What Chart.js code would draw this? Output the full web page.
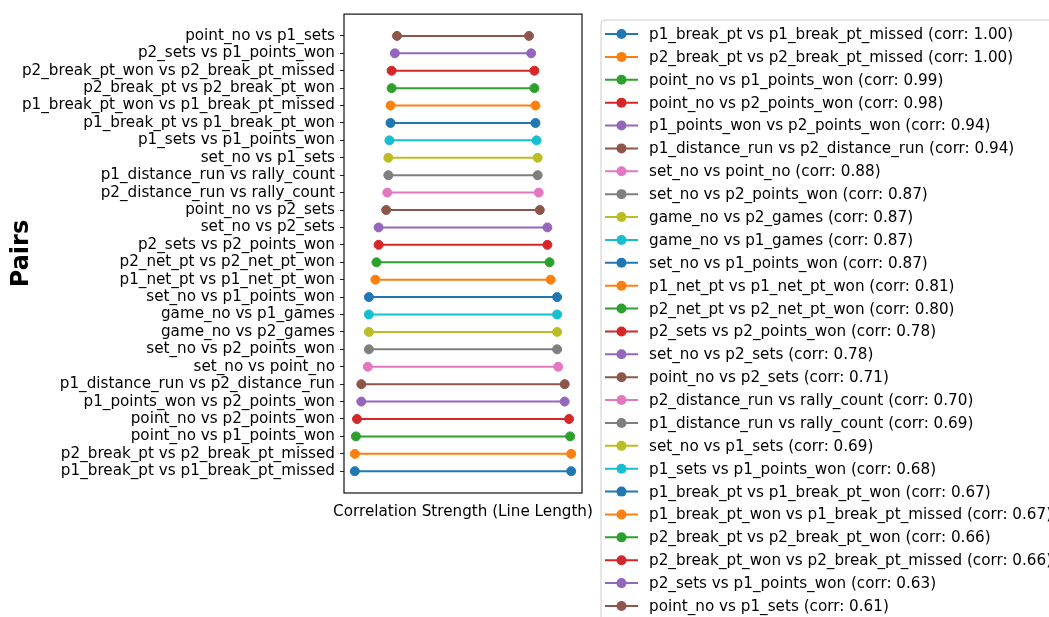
<!DOCTYPE html>
<html lang="en">
  <head>
    <meta charset="UTF-8" />
    <title>Correlation pairs</title>
    <script src="https://cdn.jsdelivr.net/npm/chart.js"></script>
    <style>
      body { margin: 0; background: #fff; }
      canvas { display: block; }
    </style>
  </head>
  <body>
    <canvas id="pairsChart" width="1049" height="617"></canvas>
    <script>
      // pairs sorted by correlation, strongest first (index 0 = bottom row)
      const pairs = [
        "p1_break_pt vs p1_break_pt_missed",
        "p2_break_pt vs p2_break_pt_missed",
        "point_no vs p1_points_won",
        "point_no vs p2_points_won",
        "p1_points_won vs p2_points_won",
        "p1_distance_run vs p2_distance_run",
        "set_no vs point_no",
        "set_no vs p2_points_won",
        "game_no vs p2_games",
        "game_no vs p1_games",
        "set_no vs p1_points_won",
        "p1_net_pt vs p1_net_pt_won",
        "p2_net_pt vs p2_net_pt_won",
        "p2_sets vs p2_points_won",
        "set_no vs p2_sets",
        "point_no vs p2_sets",
        "p2_distance_run vs rally_count",
        "p1_distance_run vs rally_count",
        "set_no vs p1_sets",
        "p1_sets vs p1_points_won",
        "p1_break_pt vs p1_break_pt_won",
        "p1_break_pt_won vs p1_break_pt_missed",
        "p2_break_pt vs p2_break_pt_won",
        "p2_break_pt_won vs p2_break_pt_missed",
        "p2_sets vs p1_points_won",
        "point_no vs p1_sets",
      ];
      const corrs = [
        1.0, 1.0, 0.99, 0.98, 0.94, 0.94, 0.88, 0.87, 0.87, 0.87, 0.87, 0.81,
        0.8, 0.78, 0.78, 0.71, 0.7, 0.69, 0.69, 0.68, 0.67, 0.67, 0.66, 0.66,
        0.63, 0.61,
      ];
      const xTitle = "Correlation Strength (Line Length)";
      const yTitle = "Pairs";

      const tab10 = [
        "#1f77b4", "#ff7f0e", "#2ca02c", "#d62728", "#9467bd",
        "#8c564b", "#e377c2", "#7f7f7f", "#bcbd22", "#17becf",
      ];

      Chart.defaults.font.family = "'DejaVu Sans', sans-serif";
      Chart.defaults.font.size = 15.2;
      Chart.defaults.color = "#000";

      // each pair is a line centred on 0, its length = correlation
      const datasets = pairs.map((name, i) => ({
        label: name + " (corr: " + corrs[i].toFixed(2) + ")",
        data: [
          { x: -corrs[i] / 2, y: i },
          { x: corrs[i] / 2, y: i },
        ],
        showLine: true,
        borderColor: tab10[i % 10],
        backgroundColor: tab10[i % 10],
        borderWidth: 2,
        pointRadius: 4.5,
        pointBorderWidth: 1,
        pointBorderColor: tab10[i % 10],
      }));

      // axes frame on all four sides + x label (wider than the axes, so
      // drawn here instead of the scale title which would squeeze it)
      const framePlugin = {
        id: "frame",
        afterDraw(chart) {
          const { ctx, chartArea: a } = chart;
          ctx.save();
          ctx.strokeStyle = "#111";
          ctx.lineWidth = 1.2;
          ctx.strokeRect(a.left, a.top, a.right - a.left, a.bottom - a.top);
          ctx.font = "15.2px 'DejaVu Sans', sans-serif";
          ctx.fillStyle = "#000";
          ctx.textAlign = "center";
          ctx.textBaseline = "middle";
          ctx.fillText(xTitle, (a.left + a.right) / 2, a.bottom + 19);
          ctx.restore();
        },
      };

      // legend box outside the axes, running off the page like the original
      const sideLegend = {
        id: "sideLegend",
        afterDraw(chart) {
          const ctx = chart.ctx;
          const x0 = 601, y0 = 20, rowH = 22.88, firstY = 34;
          ctx.save();
          ctx.beginPath();
          ctx.roundRect(x0, y0, 600, 700, 4);
          ctx.fillStyle = "rgba(255,255,255,0.8)";
          ctx.fill();
          ctx.strokeStyle = "#cccccc";
          ctx.lineWidth = 1;
          ctx.stroke();

          ctx.font = "15.2px 'DejaVu Sans', sans-serif";
          ctx.textBaseline = "middle";
          ctx.textAlign = "left";
          chart.data.datasets.forEach((ds, i) => {
            const y = firstY + i * rowH;
            ctx.strokeStyle = ds.borderColor;
            ctx.lineWidth = 2;
            ctx.beginPath();
            ctx.moveTo(605, y);
            ctx.lineTo(638, y);
            ctx.stroke();
            ctx.fillStyle = ds.borderColor;
            ctx.beginPath();
            ctx.arc(621.5, y, 5, 0, Math.PI * 2);
            ctx.fill();
            ctx.fillStyle = "#000";
            ctx.fillText(ds.label, 649, y + 1);
          });
          ctx.restore();
        },
      };

      new Chart(document.getElementById("pairsChart"), {
        type: "scatter",
        data: { datasets: datasets },
        options: {
          responsive: false,
          animation: false,
          events: [],
          layout: { padding: { top: 12, right: 467, left: 0, bottom: 0 } },
          plugins: {
            legend: { display: false },
            tooltip: { enabled: false },
          },
          scales: {
            x: {
              type: "linear",
              min: -0.55,
              max: 0.55,
              grid: { display: false },
              border: { display: false },
              ticks: { display: false },
              afterFit(scale) {
                scale.height = 124;
              },
            },
            y: {
              type: "linear",
              min: -1.25,
              max: 26.25,
              border: { display: false },
              grid: {
                drawOnChartArea: false,
                drawTicks: true,
                tickLength: 4,
                color: "#222",
              },
              ticks: {
                autoSkip: false,
                padding: 5,
                callback: (v) => pairs[v],
              },
              afterBuildTicks(scale) {
                scale.ticks = pairs.map((_, i) => ({ value: i }));
              },
              title: {
                display: true,
                text: yTitle,
                font: { size: 24, weight: "bold" },
                padding: { top: 7, bottom: 0 },
              },
              afterFit(scale) {
                scale.width = 344;
              },
            },
          },
        },
        plugins: [framePlugin, sideLegend],
      });
    </script>
  </body>
</html>
